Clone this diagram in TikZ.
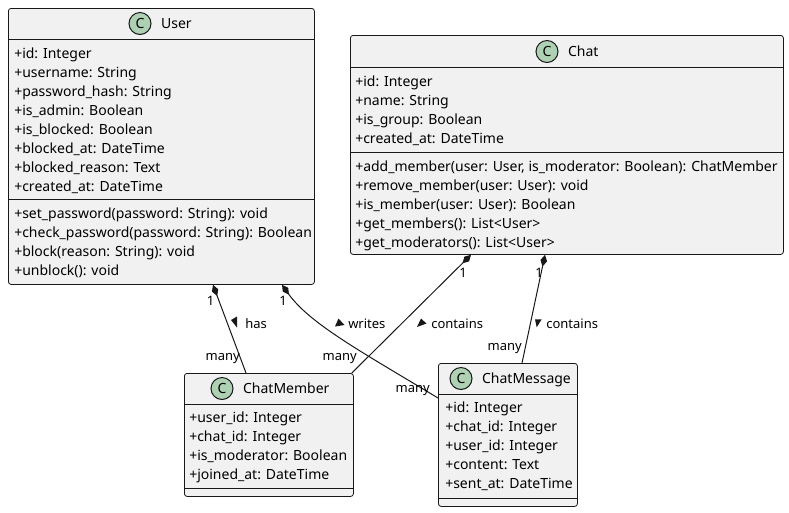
\documentclass[tikz,border=0pt]{standalone}
\usepackage{fontspec}
\setmainfont{Noto Sans}
\usetikzlibrary{calc,positioning,arrows.meta}
\definecolor{classbg}{HTML}{F1F1F1}
\definecolor{umlline}{HTML}{181818}
\definecolor{iconfill}{HTML}{ADD1B2}

\begin{document}
\begin{tikzpicture}[x=0.75pt,y=-0.75pt,
	classbox/.style={draw=umlline,fill=classbg,line width=0.6pt,rounded corners=2pt,anchor=north west,inner sep=0pt},
	sepline/.style={draw=umlline,line width=0.6pt},
	classicon/.style={circle,draw=umlline,fill=iconfill,line width=0.75pt,minimum size=16.5pt,inner sep=0pt,font=\fontsize{10.5}{12}\selectfont\bfseries},
	classname/.style={inner sep=0pt,text height=7.5pt,text depth=0pt,font=\fontsize{10.5}{12}\selectfont},
	members/.style={anchor=north west,inner sep=0pt,align=left,font=\fontsize{10.5}{14.25}\selectfont,execute at begin node={\rule{0pt}{8.25pt}}},
	mult/.style={anchor=base,inner sep=0pt,font=\fontsize{9.75}{11}\selectfont},
	role/.style={anchor=base west,inner sep=0pt,font=\fontsize{9.75}{11}\selectfont},
	composition/.style={draw=umlline,line width=0.75pt,{Diamond[length=9pt,width=5pt]}-}]
			\useasboundingbox (0,0) rectangle (789,512);
			
			% classes
			\node[classbox,minimum width=229.5pt,minimum height=207pt] (user) at (8,8) {};
			\node[classbox,minimum width=324.75pt,minimum height=164.25pt] (chat) at (350,35) {};
			\node[classbox,minimum width=126.75pt,minimum height=92.25pt] (member) at (184,373) {};
			\node[classbox,minimum width=104.25pt,minimum height=107.25pt] (message) at (438,363) {};
			
			\draw[sepline] ($(user.north west)+(0,31)$) -- ($(user.north east)+(0,31)$);
			\draw[sepline] ($(user.north west)+(0,191)$) -- ($(user.north east)+(0,191)$);
			\draw[sepline] ($(chat.north west)+(0,32)$) -- ($(chat.north east)+(0,32)$);
			\draw[sepline] ($(chat.north west)+(0,117)$) -- ($(chat.north east)+(0,117)$);
			\draw[sepline] ($(member.north west)+(0,31)$) -- ($(member.north east)+(0,31)$);
			\draw[sepline] ($(member.north west)+(0,115)$) -- ($(member.north east)+(0,115)$);
			\draw[sepline] ($(message.north west)+(0,31)$) -- ($(message.north east)+(0,31)$);
			\draw[sepline] ($(message.north west)+(0,135)$) -- ($(message.north east)+(0,135)$);
			
			\node[classicon] (usericon) at (140,23.5) {C};
			\node[classname,right=7pt of usericon] (username) {User};
			\node[classicon] (chaticon) at (547,51.5) {C};
			\node[classname,right=7pt of chaticon] (chatname) {Chat};
			\node[classicon] (membericon) at (222,388.5) {C};
			\node[classname,right=7pt of membericon] (membername) {ChatMember};
			\node[classicon] (messageicon) at (461,378.5) {C};
			\node[classname,right=7pt of messageicon] (messagename) {ChatMessage};
			
			\node[members] (userattr) at ($(user.north west)+(6,39.5)$) {+id: Integer\\+username: String\\+password\_hash: String\\+is\_admin: Boolean\\+is\_blocked: Boolean\\+blocked\_at: DateTime\\+blocked\_reason: Text\\+created\_at: DateTime};
			\node[members] (usermeth) at ($(user.north west)+(6,199.5)$) {+set\_password(password: String): void\\+check\_password(password: String): Boolean\\+block(reason: String): void\\+unblock(): void};
			\node[members] (chatattr) at ($(chat.north west)+(5,41)$) {+id: Integer\\+name: String\\+is\_group: Boolean\\+created\_at: DateTime};
			\node[members] (chatmeth) at ($(chat.north west)+(5,126)$) {+add\_member(user: User, is\_moderator: Boolean): ChatMember\\+remove\_member(user: User): void\\+is\_member(user: User): Boolean\\+get\_members(): List<User>\\+get\_moderators(): List<User>};
			\node[members] (memberattr) at ($(member.north west)+(5,39)$) {+user\_id: Integer\\+chat\_id: Integer\\+is\_moderator: Boolean\\+joined\_at: DateTime};
			\node[members] (messageattr) at ($(message.north west)+(7,39)$) {+id: Integer\\+chat\_id: Integer\\+user\_id: Integer\\+content: Text\\+sent\_at: DateTime};
			
			% relations
			\draw[composition] ($(user.south west)+(205,0)$) -- ($(member.north west)+(62,0)$);
			\draw[composition] ($(user.south west)+(274,0)$) .. controls (310,324) and (362,352) .. ($(message.north west)+(0,35)$);
			\draw[composition] ($(chat.south west)+(121,0)$) -- ($(member.north east)+(-2,0)$);
			\draw[composition] ($(chat.south west)+(195,0)$) -- ($(message.north west)+(84,0)$);
			
			\node[mult] (hasone) at (210.7,305) {1};
			\node[mult] (writesone) at (283,305) {1};
			\node[mult] (memberone) at (463,277) {1};
			\node[mult] (messageone) at (539,277) {1};
			\node[mult,anchor=base east] (hasmany) at (240,360) {many};
			\node[mult,anchor=base east] (membermany) at (357,360) {many};
			\node[mult,anchor=base east] (writesmany) at (430,392) {many};
			\node[mult,anchor=base east] (messagemany) at (522,350) {many};
			
			\node[role] (has) at (245,328.5) {has};
			\node[role] (writes) at (348,328.5) {writes};
			\node[role] (memberrole) at (431,328.5) {contains};
			\node[role] (messagerole) at (546,328.5) {contains};
			
			\fill[umlline] (231,320) -- ++(6,-3.5) -- ++(0,11) -- cycle;
			\fill[umlline] (335,326.5) -- ++(3.5,-8) -- ++(6,6.5) -- cycle;
			\fill[umlline] (417,327) -- ++(4,-8.5) -- ++(5.5,5) -- cycle;
			\fill[umlline] (535,319.3) -- ++(6.7,0) -- ++(-5,8) -- cycle;
		\end{tikzpicture}
\end{document}
